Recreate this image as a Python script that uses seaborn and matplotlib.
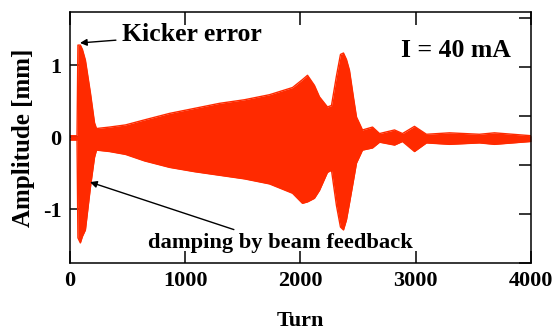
import numpy as np
import matplotlib
matplotlib.use('Agg')
import matplotlib.pyplot as plt
import seaborn as sns
import pandas as pd

# envelope of the oscillation (turn, upper, lower) in mm
turns = [0, 61, 69, 90, 108, 134, 178, 213, 230, 343, 482, 646, 863, 1080, 1297,
         1514, 1731, 1931, 2017, 2061, 2121, 2165, 2234, 2269, 2312, 2347, 2373,
         2399, 2425, 2460, 2486, 2538, 2625, 2686, 2816, 2885, 2989, 3093, 3293,
         3553, 3683, 4000]
upper = [0.02, 0.02, 1.28, 1.28, 1.22, 1.07, 0.61, 0.20, 0.12, 0.14, 0.17, 0.24,
         0.33, 0.40, 0.47, 0.52, 0.59, 0.69, 0.80, 0.86, 0.72, 0.56, 0.42, 0.44,
         0.85, 1.15, 1.17, 1.08, 0.93, 0.55, 0.28, 0.10, 0.14, 0.05, 0.10, 0.05,
         0.15, 0.04, 0.06, 0.04, 0.06, 0.02]
lower = [-0.04, -0.04, -1.40, -1.47, -1.38, -1.29, -0.69, -0.28, -0.18, -0.20,
         -0.24, -0.33, -0.42, -0.48, -0.53, -0.58, -0.65, -0.78, -0.92, -0.90,
         -0.85, -0.74, -0.49, -0.46, -0.95, -1.25, -1.29, -1.15, -0.92, -0.60,
         -0.36, -0.18, -0.15, -0.07, -0.11, -0.06, -0.20, -0.08, -0.10, -0.08,
         -0.10, -0.06]

xticks = [0, 1000, 2000, 3000, 4000]
yticks = [-1, 0, 1]

df = pd.DataFrame({'turn': turns, 'upper': upper, 'lower': lower})

sns.set_theme(style='ticks')
plt.rcParams['font.family'] = ['Liberation Serif', 'DejaVu Serif']
plt.rcParams['font.weight'] = 'bold'
plt.rcParams['text.color'] = 'black'
plt.rcParams['axes.labelcolor'] = 'black'
plt.rcParams['xtick.color'] = 'black'
plt.rcParams['ytick.color'] = 'black'

red = '#ff2a00'
fig = plt.figure(figsize=(5.58, 3.31), dpi=100)
ax = fig.add_axes([0.1254, 0.2054, 0.8262, 0.7583])

ax.fill_between(df['turn'], df['lower'], df['upper'], color=red, lw=0)
sns.lineplot(data=df, x='turn', y='upper', color=red, lw=1, ax=ax)
sns.lineplot(data=df, x='turn', y='lower', color=red, lw=1, ax=ax)

ax.set_xlim(0, 4000)
ax.set_ylim(-1.75, 1.74)
ax.set_xticks(xticks)
ax.set_yticks(yticks)
ax.set_xticklabels([str(t) for t in xticks], fontsize=16, fontweight='bold')
ax.set_yticklabels([str(t) for t in yticks], fontsize=16, fontweight='bold')
ax.tick_params(direction='in', length=9, width=1.1, top=True, pad=6,
               colors='black', labelcolor='black')
for s in ax.spines.values():
    s.set_linewidth(1.1)
    s.set_color('black')

ax.set_xlabel('Turn', fontsize=16, fontweight='bold', color='black')
ax.set_ylabel('Amplitude [mm]', fontsize=18, fontweight='bold', color='black')
ax.xaxis.set_label_coords(0.5, -0.19)
ax.yaxis.set_label_coords(-0.075, 0.5)

# right axis has its own unlabelled tick spacing
ax2 = ax.twinx()
ax2.set_ylim(0, 5.12)
ax2.set_yticks([0, 1, 2, 3, 4, 5])
ax2.set_yticklabels([])
ax2.tick_params(direction='in', length=9, width=1.1, colors='black')
for s in ax2.spines.values():
    s.set_visible(False)

ax.annotate('Kicker error', xy=(87, 1.31), xytext=(451, 1.43),
            fontsize=18.5, fontweight='bold', va='center', ha='left', color='black',
            arrowprops=dict(arrowstyle='-|>', color='black', lw=1,
                            mutation_scale=10, shrinkB=0, shrinkA=2))
ax.annotate('damping by beam feedback', xy=(174, -0.625), xytext=(1830, -1.47),
            fontsize=16.2, fontweight='bold', va='center', ha='center', color='black',
            arrowprops=dict(arrowstyle='-|>', color='black', lw=1,
                            mutation_scale=10, shrinkB=0, shrinkA=0,
                            relpos=(0.36, 1.0)))
ax.text(3826, 1.21, 'I = 40 mA', fontsize=18.5, fontweight='bold',
        ha='right', va='center', color='black')

fig.savefig('out.png', dpi=100)
